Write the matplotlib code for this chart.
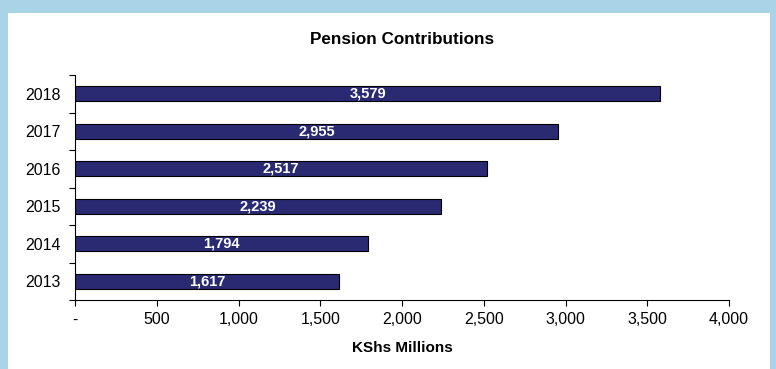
import matplotlib
matplotlib.use("Agg")
import matplotlib.pyplot as plt
from matplotlib.patches import Rectangle

years = ["2013", "2014", "2015", "2016", "2017", "2018"]
values = [1617, 1794, 2239, 2517, 2955, 3579]
xticks = [0, 500, 1000, 1500, 2000, 2500, 3000, 3500, 4000]
xticklabels = ["-", "500", "1,000", "1,500", "2,000", "2,500", "3,000", "3,500", "4,000"]

plt.rcParams['font.family'] = ['Liberation Sans', 'DejaVu Sans']

fig = plt.figure(figsize=(7.76, 3.69), dpi=100)
fig.patch.set_facecolor('#a9d3e6')
fig.patches.append(Rectangle((8/776, 0), (770-8)/776, (369-13)/369,
                             transform=fig.transFigure, facecolor='white',
                             edgecolor='none', zorder=-10))

ax = fig.add_axes([75/776, 69/369, 654/776, 225/369])
ax.set_facecolor('none')
pos = list(range(len(years)))
ax.barh(pos, values, height=0.4, color='#2a2a72', edgecolor='black', linewidth=0.8)
for p, v in zip(pos, values):
    ax.text(v / 2, p, f"{v:,}", ha='center', va='center', color='white',
            fontsize=10.5, fontweight='bold')

ax.set_xlim(0, 4000)
ax.set_ylim(-0.5, len(years) - 0.5)
ax.set_xticks(xticks)
ax.set_xticklabels(xticklabels, fontsize=11.5)
ax.set_yticks(pos)
ax.set_yticklabels(years, fontsize=11.5)
ax.set_yticks([i - 0.5 for i in range(len(years) + 1)], minor=True)
ax.tick_params(axis='y', which='major', length=0, pad=10)
ax.tick_params(axis='y', which='minor', length=4, width=0.8)
ax.tick_params(axis='x', length=4, width=0.8, pad=5)
for s in ['top', 'right']:
    ax.spines[s].set_visible(False)
ax.spines['left'].set_linewidth(0.8)
ax.spines['bottom'].set_linewidth(0.8)

ax.set_title("Pension Contributions", fontsize=12.3, fontweight='bold', pad=22)
ax.set_xlabel("KShs Millions", fontsize=11, fontweight='bold', labelpad=10)

fig.savefig("out.png", dpi=100)
